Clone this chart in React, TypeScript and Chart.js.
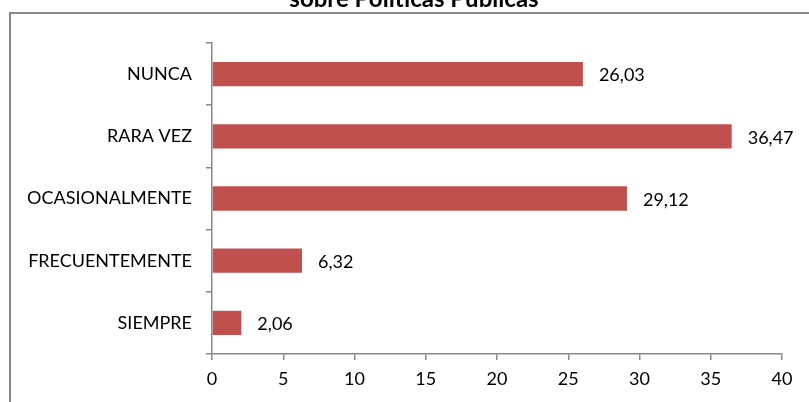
import React, { useEffect, useRef } from "react";
import { Chart, registerables } from "chart.js";

Chart.register(...registerables);

const categories = ["NUNCA", "RARA VEZ", "OCASIONALMENTE", "FRECUENTEMENTE", "SIEMPRE"];
const values = [26.03, 36.47, 29.12, 6.32, 2.06];
const titleText = "sobre Políticas Públicas";
const xMin = 0;
const xMax = 40;
const xStep = 5;

const FONT = "Lato, 'Open Sans', sans-serif";
const AXIS_COLOR = "#888888";

const decorPlugin = {
  id: "decor",
  beforeDraw(chart: any) {
    const ctx = chart.ctx;
    ctx.save();
    ctx.fillStyle = "#ffffff";
    ctx.fillRect(0, 0, chart.width, chart.height);
    ctx.strokeStyle = "#8a8a8a";
    ctx.lineWidth = 2;
    ctx.strokeRect(10, 13, chart.width + 20, chart.height + 20);
    ctx.fillStyle = "#000000";
    ctx.font = `bold 24px ${FONT}`;
    ctx.textAlign = "center";
    ctx.textBaseline = "alphabetic";
    ctx.fillText(titleText, 414, 7);
    ctx.restore();
  },
  afterDatasetsDraw(chart: any) {
    const ctx = chart.ctx;
    const meta = chart.getDatasetMeta(0);
    ctx.save();
    ctx.fillStyle = "#000000";
    ctx.font = `18px ${FONT}`;
    ctx.textAlign = "left";
    ctx.textBaseline = "middle";
    meta.data.forEach((bar: any, i: number) => {
      const label = values[i].toFixed(2).replace(".", ",");
      ctx.fillText(label, bar.x + 16, bar.y + 1.5);
    });
    ctx.restore();
  },
};

export default function App() {
  const ref = useRef<HTMLCanvasElement>(null);
  useEffect(() => {
    if (!ref.current) return;
    const chart = new Chart(ref.current, {
      type: "bar",
      data: {
        labels: categories,
        datasets: [
          {
            data: values,
            backgroundColor: "#C0504D",
            borderWidth: 0,
            barPercentage: 0.39,
            categoryPercentage: 1,
          },
        ],
      },
      options: {
        indexAxis: "y",
        responsive: false,
        animation: false,
        layout: { padding: { left: 0, right: 27, top: 43, bottom: 0 } },
        plugins: {
          legend: { display: false },
          title: { display: false },
          tooltip: { enabled: false },
        },
        scales: {
          x: {
            min: xMin,
            max: xMax,
            ticks: {
              stepSize: xStep,
              color: "#000000",
              font: { family: FONT, size: 18 },
              padding: 8,
              maxRotation: 0,
            },
            grid: {
              display: true,
              drawOnChartArea: false,
              drawTicks: true,
              tickLength: 6,
              color: AXIS_COLOR,
              lineWidth: 1.5,
            },
            border: { display: true, color: AXIS_COLOR, width: 1.5 },
            afterFit(scale: any) {
              scale.height = 48;
            },
          },
          y: {
            ticks: {
              color: "#000000",
              font: { family: FONT, size: 18 },
              padding: 14,
            },
            grid: {
              display: true,
              offset: true,
              drawOnChartArea: false,
              drawTicks: true,
              tickLength: 6,
              color: AXIS_COLOR,
              lineWidth: 1.5,
            },
            border: { display: true, color: AXIS_COLOR, width: 1.5 },
            afterFit(scale: any) {
              scale.width = 212;
            },
          },
        },
      },
      plugins: [decorPlugin],
    });
    return () => chart.destroy();
  }, []);
  return (
    <div style={{ position: "fixed", left: 0, top: 0, width: 809, height: 402, background: "#fff" }}>
      <canvas ref={ref} width={809} height={402} style={{ display: "block" }} />
    </div>
  );
}
